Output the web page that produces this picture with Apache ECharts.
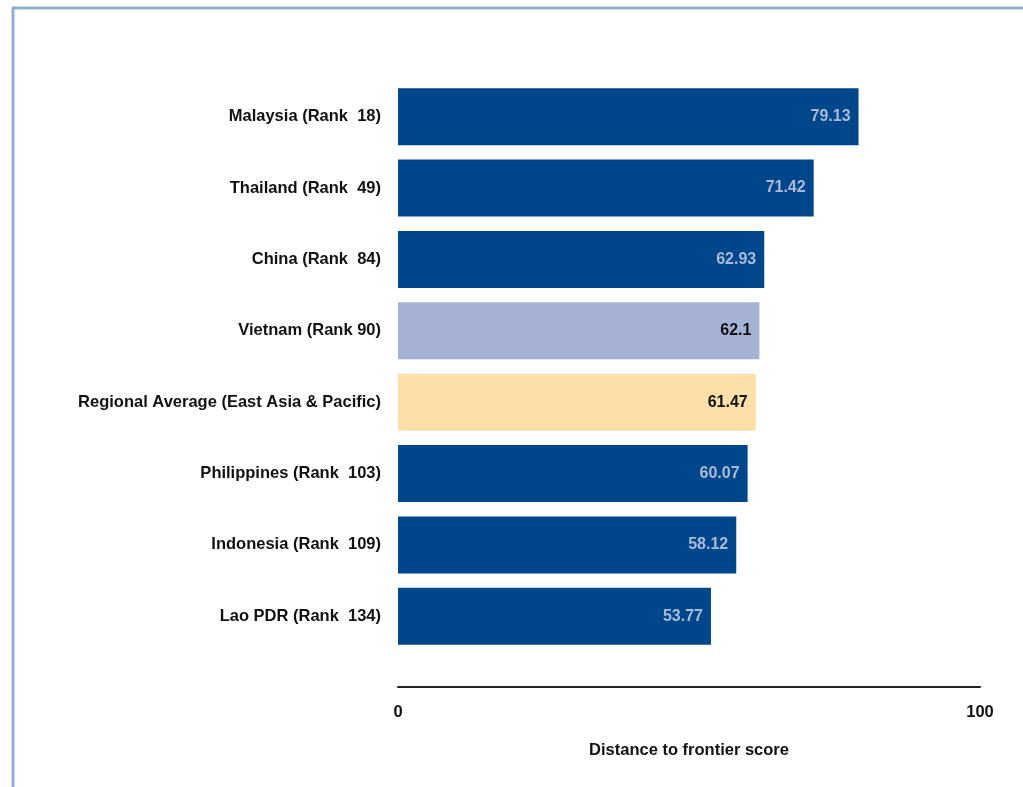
<!DOCTYPE html>
<html>
<head>
<meta charset="utf-8">
<script src="https://cdn.jsdelivr.net/npm/echarts@6/dist/echarts.min.js"></script>
<style>
  html, body { margin: 0; padding: 0; background: #fff; }
  #chart { width: 1023px; height: 787px; }
</style>
</head>
<body>
<div id="chart"></div>
<script>
// data
const countries = [
  'Malaysia (Rank  18)',
  'Thailand (Rank  49)',
  'China (Rank  84)',
  'Vietnam (Rank 90)',
  'Regional Average (East Asia & Pacific)',
  'Philippines (Rank  103)',
  'Indonesia (Rank  109)',
  'Lao PDR (Rank  134)'
];
const scores = [79.13, 71.42, 62.93, 62.1, 61.47, 60.07, 58.12, 53.77];
const axisTicks = [0, 100];

const DARK = '#00468b';
const barColor = (name) => {
  if (name.indexOf('Vietnam') === 0) return '#a5b2d5';
  if (name.indexOf('Regional') === 0) return '#fde0a9';
  return DARK;
};
const labelColor = (name) => barColor(name) === DARK ? '#a9bada' : '#111';

let chart = echarts.init(document.getElementById('chart'));
let option = {
  animation: false,
  textStyle: { fontFamily: 'Liberation Sans' },
  grid: { left: 398, right: 43, top: 81, bottom: 135 },
  graphic: [
    { type: 'line', shape: { x1: 13, y1: 8, x2: 13, y2: 787 }, style: { stroke: '#8fb0d6', lineWidth: 3 } },
    { type: 'line', shape: { x1: 12, y1: 8, x2: 1023, y2: 8 }, style: { stroke: '#8fb0d6', lineWidth: 3 } }
  ],
  xAxis: {
    type: 'value',
    min: axisTicks[0],
    max: axisTicks[1],
    interval: 100,
    offset: 35,
    splitLine: { show: false },
    axisLine: { show: true, lineStyle: { color: '#222', width: 2 } },
    axisTick: { show: false },
    axisLabel: { margin: 17, color: '#111', fontWeight: 'bold', fontSize: 16.5 },
    name: 'Distance to frontier score',
    nameLocation: 'middle',
    nameGap: 55,
    nameTextStyle: { color: '#111', fontWeight: 'bold', fontSize: 16.5 }
  },
  yAxis: {
    type: 'category',
    inverse: true,
    data: countries,
    axisLine: { show: false },
    axisTick: { show: false },
    axisLabel: { margin: 17, color: '#111', fontWeight: 'bold', fontSize: 16.5 }
  },
  series: [{
    type: 'bar',
    barWidth: 57,
    data: countries.map((c, i) => ({
      value: scores[i],
      itemStyle: { color: barColor(c) },
      label: { color: labelColor(c) }
    })),
    label: {
      show: true,
      position: 'insideRight',
      distance: 8,
      fontSize: 16,
      fontWeight: 'bold',
      formatter: (p) => String(p.value)
    }
  }]
};
chart.setOption(option);
</script>
</body>
</html>
